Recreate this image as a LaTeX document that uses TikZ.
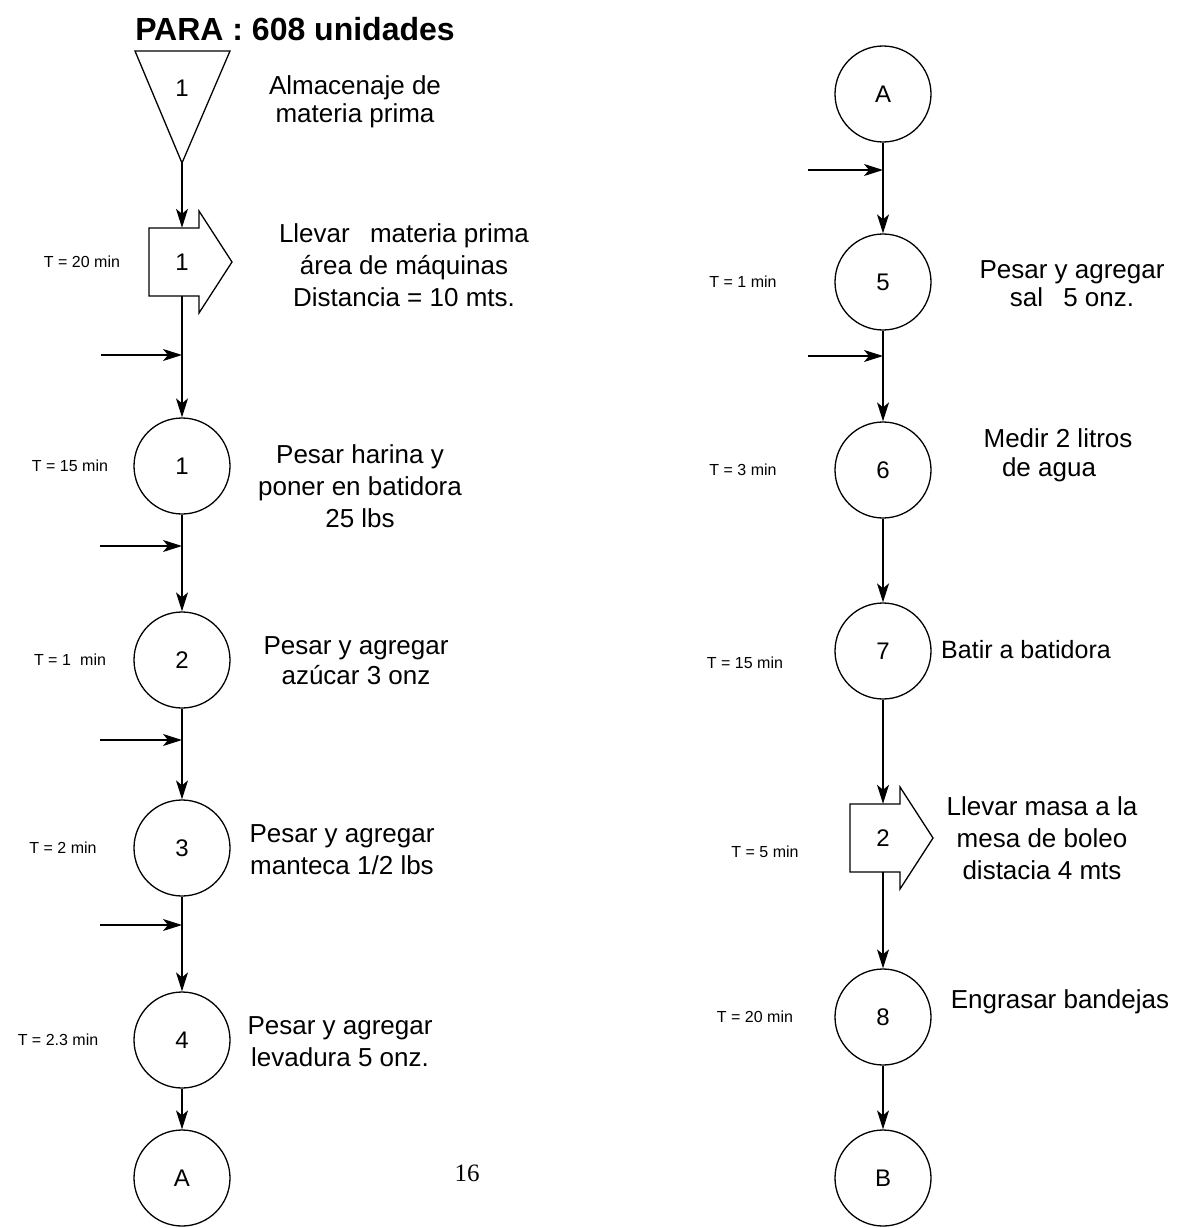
\documentclass[tikz,border=0pt]{standalone}
\usepackage{fontspec}
\setmainfont{Liberation Sans}
\newfontfamily\pagefont{Liberation Serif}
\usetikzlibrary{arrows.meta}

\tikzset{
  flow/.style={line width=1.2pt, -{Stealth[length=19pt,width=12pt,inset=5pt]}},
  opcircle/.style={circle, draw, line width=1.3pt, minimum size=96pt, inner sep=0pt,
                   font=\fontsize{24}{24}\selectfont},
  tnode/.style={minimum width=66pt, minimum height=68pt, inner sep=0pt,
                font=\fontsize{24}{24}\selectfont},
  tshape/.style={draw, line width=1.3pt, line join=miter},
  desc/.style={align=center, inner sep=0pt, font=\fontsize{26}{31}\selectfont},
  tlabel/.style={inner sep=0pt, font=\fontsize{16}{16}\selectfont},
}

\begin{document}
\begin{tikzpicture}[x=1pt, y=-1pt]
\useasboundingbox (0,0) rectangle (1181,1228);

% ---------------- left column ----------------
\node[font=\fontsize{32}{32}\selectfont\bfseries] (title) at (295,29) {PARA : 608 unidades};

% storage triangle
\draw[line width=1.3pt, line join=miter] (135,51) -- (230,51) -- (182,163) -- cycle;
\node[font=\fontsize{24}{24}\selectfont] (s1) at (182,88) {1};
\coordinate (s1apex) at (182,163);
\node[desc, font=\fontsize{26}{28}\selectfont] (s1txt) at (355,102) {Almacenaje de\\materia prima};

% transport 1
\node[tnode] (t1) at (182,262) {1};
\draw[tshape] (t1.center) ++(-33,-34) -- ++(50,0) -- ++(0,-17) -- ++(33,51)
      -- ++(-33,51) -- ++(0,-17) -- ++(-50,0) -- cycle;
\node[tlabel] (t1time) at (82,262) {T = 20 min};
\node[desc, font=\fontsize{26}{32}\selectfont] (t1txt) at (404,265)
  {Llevar\hspace{0.5em} materia prima\\área de máquinas\\Distancia = 10 mts.};

% operations
\node[opcircle] (o1) at (182,466) {1};
\node[tlabel] (o1time) at (70,466) {T = 15 min};
\node[desc, font=\fontsize{26}{32}\selectfont] (o1txt) at (360,486)
  {Pesar harina y\\poner en batidora\\25 lbs};

\node[opcircle] (o2) at (182,660) {2};
\node[tlabel] (o2time) at (70,660) {T = 1\hspace{0.3em} min};
\node[desc, font=\fontsize{26}{30}\selectfont] (o2txt) at (356,661)
  {Pesar y agregar\\azúcar 3 onz};

\node[opcircle] (o3) at (182,848) {3};
\node[tlabel] (o3time) at (63,848) {T = 2 min};
\node[desc, font=\fontsize{26}{32}\selectfont] (o3txt) at (342,850)
  {Pesar y agregar\\manteca 1/2 lbs};

\node[opcircle] (o4) at (182,1040) {4};
\node[tlabel] (o4time) at (58,1040) {T = 2.3 min};
\node[desc, font=\fontsize{26}{32}\selectfont] (o4txt) at (340,1042)
  {Pesar y agregar\\levadura 5 onz.};

\node[opcircle] (a1) at (182,1178) {A};
\node[font=\pagefont\fontsize{25}{25}\selectfont] (page) at (467,1173) {16};

% incoming materials
\coordinate (j1) at (182,355);  \coordinate (i1) at (101,355);
\coordinate (j2) at (182,546);  \coordinate (i2) at (100,546);
\coordinate (j3) at (182,740);  \coordinate (i3) at (100,740);
\coordinate (j4) at (182,925);  \coordinate (i4) at (100,925);

\draw[flow] (s1apex) -- (t1.north);
\draw[flow] (t1.south) -- (o1.north);
\draw[flow] (o1.south) -- (o2.north);
\draw[flow] (o2.south) -- (o3.north);
\draw[flow] (o3.south) -- (o4.north);
\draw[flow] (o4.south) -- (a1.north);
\draw[flow] (i1) -- (j1);
\draw[flow] (i2) -- (j2);
\draw[flow] (i3) -- (j3);
\draw[flow] (i4) -- (j4);

% ---------------- right column ----------------
\node[opcircle] (a2) at (883,94) {A};

\node[opcircle] (o5) at (883,282) {5};
\node[tlabel] (o5time) at (743,282) {T = 1 min};
\node[desc, font=\fontsize{26}{28}\selectfont] (o5txt) at (1072,284)
  {Pesar y agregar\\sal\hspace{0.5em} 5 onz.};

\node[opcircle] (o6) at (883,470) {6};
\node[tlabel] (o6time) at (743,470) {T = 3 min};
\node[desc, font=\fontsize{26}{29}\selectfont] (o6txt) at (1058,455)
  {Medir 2 litros\\de agua\hspace*{18pt}};

\node[opcircle] (o7) at (883,651) {7};
\node[tlabel] (o7time) at (745,663) {T = 15 min};
\node[desc, font=\fontsize{25}{30}\selectfont] (o7txt) at (1026,650) {Batir a batidora};

\node[tnode] (t2) at (883,838) {2};
\draw[tshape] (t2.center) ++(-33,-34) -- ++(50,0) -- ++(0,-17) -- ++(33,51)
      -- ++(-33,51) -- ++(0,-17) -- ++(-50,0) -- cycle;
\node[tlabel] (t2time) at (765,852) {T = 5 min};
\node[desc, font=\fontsize{26}{32}\selectfont] (t2txt) at (1042,838)
  {Llevar masa a la\\mesa de boleo\\distacia 4 mts};

\node[opcircle] (o8) at (883,1017) {8};
\node[tlabel] (o8time) at (755,1017) {T = 20 min};
\node[desc] (o8txt) at (1060,1002) {Engrasar bandejas};

\node[opcircle] (b1) at (883,1178) {B};

\coordinate (j5) at (883,170);  \coordinate (i5) at (808,170);
\coordinate (j6) at (883,356);  \coordinate (i6) at (808,356);

\draw[flow] (a2.south) -- (o5.north);
\draw[flow] (o5.south) -- (o6.north);
\draw[flow] (o6.south) -- (o7.north);
\draw[flow] (o7.south) -- (t2.north);
\draw[flow] (t2.south) -- (o8.north);
\draw[flow] (o8.south) -- (b1.north);
\draw[flow] (i5) -- (j5);
\draw[flow] (i6) -- (j6);
\end{tikzpicture}
\end{document}
